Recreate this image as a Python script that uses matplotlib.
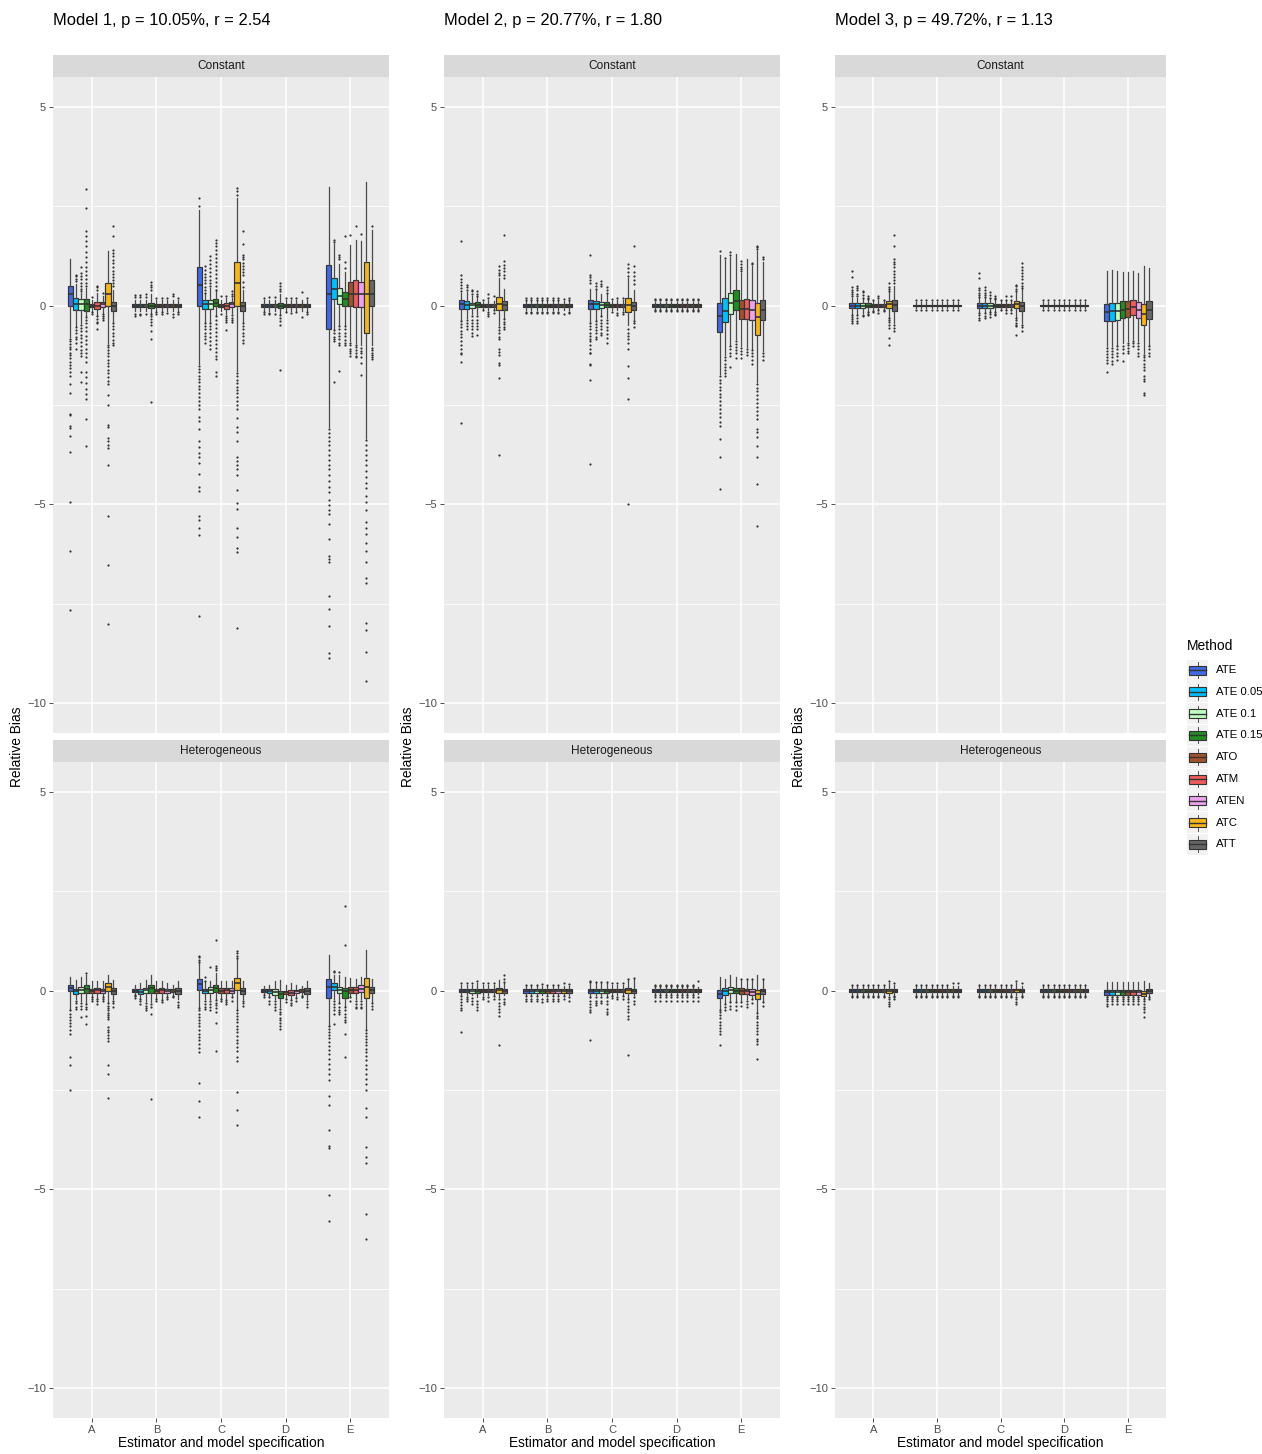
import matplotlib
matplotlib.use("Agg")
import matplotlib.pyplot as plt
from matplotlib.patches import Rectangle

plt.rcParams['font.family'] = ['Liberation Sans', 'DejaVu Sans']

W, H = 1262, 1454

GROUPS = ['A', 'B', 'C', 'D', 'E']
METHODS = ['ATE', 'ATE 0.05', 'ATE 0.1', 'ATE 0.15', 'ATO', 'ATM', 'ATEN', 'ATC', 'ATT']
COLORS = ['#4169E1', '#00BFFF', '#C1FFC1', '#228B22', '#A0522D',
          '#EE5C5C', '#EEA2EE', '#F5B51B', '#666666']
TITLES = ['Model 1, p = 10.05%, r = 2.54',
          'Model 2, p = 20.77%, r = 1.80',
          'Model 3, p = 49.72%, r = 1.13']
ROWS = ['Constant', 'Heterogeneous']

# box summaries: (whisker low, q1, median, q3, whisker high)
T1 = (-0.14, -0.04, 0.0, 0.04, 0.14)
T2 = (-0.12, -0.03, 0.0, 0.03, 0.12)
T3 = (-0.06, -0.02, 0.0, 0.02, 0.10)
T4 = (-0.10, -0.03, 0.0, 0.03, 0.12)
T5 = (-0.10, -0.05, 0.0, 0.03, 0.12)
T6 = (-0.08, -0.03, 0.0, 0.03, 0.10)

# ---------------- Model 1 ----------------
M1_CONST = {
    'A': [(-0.80, -0.02, 0.28, 0.50, 1.18), (-0.52, -0.10, 0.04, 0.19, 0.55),
          (-0.45, -0.10, 0.04, 0.17, 0.32), (-0.25, -0.14, 0.05, 0.17, 0.45),
          (-0.15, -0.04, 0.0, 0.04, 0.15), (-0.25, -0.08, 0.0, 0.08, 0.32),
          (-0.18, -0.03, 0.03, 0.08, 0.25), (-0.94, -0.02, 0.30, 0.57, 1.38),
          (-0.42, -0.14, 0.0, 0.08, 0.40)],
    'B': [T1, T1, T1, (-0.18, -0.06, 0.0, 0.06, 0.30), T1, T1, T1, T1, T1],
    'C': [(-1.48, -0.02, 0.51, 0.97, 2.41), (-0.42, -0.08, 0.04, 0.15, 0.30),
          (-0.42, -0.08, 0.04, 0.15, 0.45), (-0.25, -0.02, 0.07, 0.17, 0.38),
          T1, (-0.22, -0.08, 0.0, 0.07, 0.20), (-0.18, -0.03, 0.03, 0.08, 0.20),
          (-1.64, 0.0, 0.57, 1.09, 2.70), (-0.42, -0.14, -0.02, 0.08, 0.40)],
    'D': [T1, T1, T1, (-0.20, -0.06, 0.0, 0.06, 0.30), T1, T1, T1, T1, T1],
    'E': [(-3.05, -0.60, 0.30, 1.03, 2.98), (-0.60, 0.17, 0.43, 0.70, 1.55),
          (-0.50, 0.05, 0.23, 0.44, 1.05), (-0.50, -0.02, 0.17, 0.34, 0.85),
          (-0.90, -0.02, 0.30, 0.59, 1.53), (-0.95, -0.03, 0.30, 0.64, 1.66),
          (-1.00, -0.03, 0.30, 0.59, 1.62), (-3.32, -0.68, 0.30, 1.10, 3.12),
          (-1.00, -0.02, 0.30, 0.65, 1.91)],
}
M1_CONST_OUT = {
    'A': [[-0.84, -0.9, -0.97, -1.03, -1.1, -1.18, -1.25, -1.33, -1.42, -1.5, -1.58, -1.67,
           -1.78, -1.98, -2.2, -2.72, -2.76, -3.04, -3.09, -3.29, -3.67, -4.95, -6.16, -7.66],
          [0.62, 0.68, 0.74, 0.78, -0.55, -0.62, -0.7, -0.78, -0.85, -0.95, -1.1],
          [0.36, 0.42, 0.5, 0.58, 0.66, 0.74, 0.82, 0.97, -0.48, -0.56, -0.64, -0.73, -0.82,
           -0.92, -1.02, -1.12, -1.2, -1.28, -1.66, -1.91],
          [0.49, 0.58, 0.68, 0.78, 0.88, 0.98, 1.1, 1.22, 1.35, 1.5, 1.62, 1.75, 1.87, 2.45,
           2.93, -0.28, -0.36, -0.45, -0.55, -0.65, -0.76, -0.86, -0.97, -1.08, -1.18, -1.3,
           -1.42, -1.68, -1.8, -1.95, -2.1, -2.22, -2.36, -2.84, -3.54],
          [0.22, -0.17, -0.2],
          [0.4, 0.46, 0.5, -0.27, -0.33, -0.4, -0.44, -0.58],
          [0.32, -0.2, -0.26, -0.31, -0.37],
          [-0.98, -1.05, -1.12, -1.2, -1.28, -1.36, -1.45, -1.53, -1.62, -1.7, -1.8, -1.9,
           -1.98, -2.26, -2.49, -3.0, -3.05, -3.32, -3.4, -3.5, -3.58, -4.02, -5.28, -6.53, -8.02],
          [0.49, 0.56, 0.64, 0.72, 0.8, 0.88, 0.97, 1.06, 1.15, 1.24, 1.32, 1.4, 1.76, 2.0,
           -0.44, -0.52, -0.6, -0.68, -0.77, -0.86, -0.93, -1.0]],
    'B': [[0.22, 0.27, -0.2, -0.25], [0.22, 0.27, -0.2, -0.24], [0.22, 0.3, -0.2],
          [0.4, 0.47, 0.53, 0.6, -0.2, -0.27, -0.34, -0.4, -0.48, -0.65, -0.85, -2.42],
          [0.2, -0.17, -0.2], [0.2, -0.17, -0.2], [0.2, -0.18], [0.25, 0.3, -0.22, -0.28],
          [0.2, -0.17, -0.22]],
    'C': [[2.5, 2.7, -1.52, -1.6, -1.68, -1.76, -1.85, -1.93, -2.02, -2.1, -2.2, -2.3, -2.4,
           -2.5, -2.6, -2.8, -2.9, -3.1, -3.4, -3.55, -3.7, -3.82, -3.95, -4.24, -4.55, -4.67,
           -5.28, -5.38, -5.6, -5.78, -7.81],
          [0.32, 0.4, 0.48, 0.56, 0.64, 0.72, 0.8, 0.9, 0.99, -0.44, -0.52, -0.6, -0.68,
           -0.76, -0.85, -0.93],
          [0.49, 0.57, 0.65, 0.75, 0.85, 0.95, 1.05, 1.15, 1.24, -0.44, -0.52, -0.6, -0.7,
           -0.8, -0.9, -1.0, -1.1],
          [0.4, 0.5, 0.6, 0.7, 0.8, 0.9, 1.0, 1.1, 1.2, 1.3, 1.4, 1.5, 1.58, 1.66, -0.27,
           -0.36, -0.46, -0.56, -0.66, -0.76, -0.86, -0.96, -1.06, -1.16, -1.26, -1.35,
           -1.68, -1.76],
          [0.23, -0.2],
          [0.23, -0.25, -0.3, -0.36, -0.4, -0.62],
          [0.23, 0.3, 0.36, -0.23, -0.3, -0.36, -0.4],
          [2.79, 2.88, 2.96, -1.7, -1.78, -1.86, -1.95, -2.04, -2.12, -2.2, -2.3, -2.4, -2.5,
           -2.6, -2.83, -3.05, -3.17, -3.4, -3.8, -3.9, -4.0, -4.1, -4.25, -4.64, -4.97,
           -5.12, -5.6, -5.82, -6.1, -6.2, -8.1],
          [0.48, 0.6, 0.78, 0.85, 0.92, 1.0, 1.08, 1.16, 1.22, 1.28, 1.55, 1.88, -0.44,
           -0.52, -0.6, -0.68, -0.77, -0.86, -0.94]],
    'D': [[0.2, -0.17, -0.2], [0.22, -0.18, -0.22], [0.22, -0.2],
          [0.36, 0.42, 0.5, 0.57, -0.23, -0.3, -0.38, -0.48, -1.61],
          [0.2, -0.17], [0.2, -0.18], [0.2, -0.17], [0.35, -0.28], [0.2, -0.17, -0.2]],
    'E': [[-3.1, -3.2, -3.3, -3.4, -3.5, -3.62, -3.75, -3.88, -4.0, -4.12, -4.25, -4.4,
           -4.55, -4.7, -4.88, -5.02, -5.15, -5.23, -5.5, -5.88, -6.3, -6.38, -6.45, -7.3,
           -7.62, -8.05, -8.74, -8.87],
          [1.6, 1.66, -0.62, -0.7, -0.78, -0.85, -0.9, -1.93],
          [1.16, 1.22, 1.28, -0.52, -0.6, -0.68, -0.76, -0.85, -0.93, -0.98, -1.65],
          [0.95, 1.09, 1.74, -0.52, -0.6, -0.68, -0.77, -0.86, -0.93, -1.0],
          [1.78, -0.93, -1.0, -1.08, -1.15, -1.2, -1.27],
          [1.99, -0.98, -1.05, -1.12, -1.2, -1.27, -1.3],
          [1.81, -1.06, -1.13, -1.2, -1.3, -1.45, -1.75],
          [-3.38, -3.5, -3.62, -3.75, -3.88, -4.0, -4.15, -4.3, -4.45, -4.6, -4.8, -4.95,
           -5.15, -5.45, -5.6, -5.75, -5.98, -6.17, -6.44, -6.85, -6.98, -7.98, -8.17,
           -8.72, -9.45],
          [1.99, -1.06, -1.12, -1.18, -1.23, -1.3, -1.35]],
}

M1_HET = {
    'A': [(-0.48, -0.02, 0.07, 0.15, 0.35), (-0.22, -0.08, -0.02, 0.04, 0.27),
          (-0.25, -0.07, 0.02, 0.10, 0.35), (-0.30, -0.07, 0.04, 0.13, 0.38),
          (-0.15, -0.05, 0.0, 0.05, 0.23), (-0.18, -0.05, 0.02, 0.07, 0.25),
          (-0.15, -0.05, 0.0, 0.05, 0.23), (-0.30, -0.02, 0.10, 0.18, 0.38),
          (-0.22, -0.08, 0.0, 0.07, 0.27)],
    'B': [(-0.08, -0.04, 0.0, 0.03, 0.13), (-0.18, -0.08, -0.03, 0.04, 0.18),
          (-0.25, -0.06, 0.02, 0.07, 0.27), (-0.28, -0.07, 0.06, 0.13, 0.38),
          (-0.18, -0.05, 0.0, 0.05, 0.23), (-0.20, -0.06, 0.02, 0.07, 0.25),
          (-0.15, -0.05, 0.0, 0.05, 0.20), (-0.10, -0.04, 0.0, 0.03, 0.15),
          (-0.22, -0.08, 0.0, 0.07, 0.25)],
    'C': [(-0.42, 0.02, 0.17, 0.29, 0.70), (-0.22, -0.07, 0.0, 0.04, 0.22),
          (-0.22, -0.05, 0.02, 0.08, 0.25), (-0.20, -0.04, 0.07, 0.13, 0.45),
          (-0.18, -0.06, 0.0, 0.06, 0.23), (-0.20, -0.06, 0.02, 0.07, 0.25),
          (-0.15, -0.06, 0.0, 0.06, 0.25), (-0.46, 0.02, 0.18, 0.32, 0.80),
          (-0.22, -0.08, 0.0, 0.07, 0.25)],
    'D': [(-0.08, -0.04, 0.0, 0.03, 0.12), (-0.15, -0.07, 0.0, 0.03, 0.15),
          (-0.22, -0.10, -0.03, 0.03, 0.25), (-0.42, -0.18, -0.08, 0.0, 0.27),
          (-0.20, -0.08, -0.03, 0.0, 0.15), (-0.22, -0.11, -0.05, 0.02, 0.20),
          (-0.15, -0.07, -0.02, 0.02, 0.15), (-0.10, -0.04, 0.0, 0.03, 0.12),
          (-0.22, -0.08, 0.0, 0.07, 0.25)],
    'E': [(-0.88, -0.18, 0.10, 0.28, 0.90), (-0.22, 0.02, 0.10, 0.18, 0.40),
          (-0.30, -0.07, 0.02, 0.10, 0.40), (-0.40, -0.18, -0.02, 0.07, 0.34),
          (-0.15, -0.06, 0.02, 0.08, 0.32), (-0.20, -0.06, 0.02, 0.08, 0.30),
          (-0.22, -0.04, 0.05, 0.13, 0.35), (-0.96, -0.19, 0.10, 0.32, 1.02),
          (-0.28, -0.07, 0.02, 0.10, 0.30)],
}
M1_HET_OUT = {
    'A': [[-0.5, -0.58, -0.66, -0.74, -0.82, -0.9, -0.98, -1.09, -1.68, -1.88, -2.49],
          [-0.25, -0.32, -0.4, -0.46], [-0.3, -0.38, -0.46, -0.67],
          [0.44, -0.33, -0.4, -0.46, -0.63, -0.84], [-0.17, -0.21, -0.25],
          [-0.21, -0.27, -0.33], [-0.17, -0.21, -0.25],
          [-0.32, -0.38, -0.44, -0.5, -0.56, -0.62, -0.67, -0.71, -0.92, -0.98, -1.05,
           -1.12, -1.19, -1.26, -1.87, -2.1, -2.7],
          [-0.25, -0.32, -0.4]],
    'B': [[-0.1, -0.14, -0.18], [-0.21, -0.27, -0.33], [-0.3, -0.38, -0.44, -0.49],
          [-0.33, -0.4, -0.59, -2.72], [-0.21, -0.27], [-0.24, -0.29], [-0.17, -0.22],
          [-0.13, -0.17], [-0.29, -0.35, -0.42]],
    'C': [[0.71, 0.78, 0.84, 0.88, -0.44, -0.5, -0.58, -0.66, -0.74, -0.82, -0.9, -0.98,
           -1.09, -1.17, -1.25, -1.35, -1.45, -1.55, -2.33, -2.77, -3.19],
          [0.25, 0.33, -0.25, -0.33, -0.4, -0.46], [0.59, -0.25, -0.33, -0.4, -0.49],
          [0.53, 0.58, 0.63, 1.27, -0.23, -0.3, -0.37, -0.44, -0.54, -0.82, -1.52],
          [-0.21, -0.27], [-0.24, -0.29, -0.34], [-0.17, -0.25],
          [0.82, 0.88, 0.94, 0.99, -0.48, -0.56, -0.64, -0.72, -0.8, -0.88, -0.96, -1.05,
           -1.14, -1.23, -1.32, -1.42, -1.51, -1.68, -1.78, -2.55, -3.0, -3.37],
          [-0.25, -0.31, -0.38]],
    'D': [[-0.1, -0.16], [-0.17, -0.25, -0.33], [-0.25, -0.33, -0.42, -0.5],
          [-0.46, -0.53, -0.6, -0.68, -0.75, -0.82, -0.89, -0.96], [-0.21, -0.29],
          [-0.24, -0.3, -0.35], [-0.18, -0.25], [-0.13, -0.17], [-0.25, -0.33, -0.42]],
    'E': [[-0.9, -0.96, -1.04, -1.12, -1.2, -1.3, -1.4, -1.5, -1.6, -1.72, -1.84, -1.96,
           -2.1, -2.26, -2.64, -2.87, -3.51, -3.92, -3.95, -5.15, -5.8],
          [0.46, 0.5, -0.25, -0.33, -0.42, -0.5, -0.59, -0.84],
          [0.48, -0.32, -0.4, -0.48, -0.55, -0.59],
          [1.15, 2.12, -0.42, -0.5, -0.58, -0.66, -0.74, -0.8, -1.1, -1.68],
          [-0.17, -0.25], [-0.25, -0.33, -0.4, -0.44], [-0.25, -0.33, -0.4, -0.44],
          [-0.98, -1.06, -1.14, -1.22, -1.3, -1.38, -1.46, -1.55, -1.65, -1.75, -1.86,
           -1.98, -2.1, -2.22, -2.35, -2.51, -2.95, -3.18, -3.94, -4.19, -4.33, -5.61, -6.24],
          [-0.32, -0.39, -0.46]],
}

# ---------------- Model 2 ----------------
M2_CONST = {
    'A': [(-0.35, -0.08, 0.03, 0.15, 0.32), (-0.32, -0.08, 0.01, 0.11, 0.35),
          (-0.22, -0.05, 0.01, 0.07, 0.25), (-0.20, -0.03, 0.02, 0.08, 0.22),
          (-0.10, -0.03, 0.0, 0.04, 0.10), (-0.12, -0.03, 0.0, 0.04, 0.15),
          (-0.10, -0.03, 0.0, 0.04, 0.12), (-0.50, -0.12, 0.04, 0.21, 0.70),
          (-0.30, -0.10, 0.01, 0.11, 0.42)],
    'B': [T2, T2, T2, T2, T2, T2, T2, T2, T2],
    'C': [(-0.40, -0.08, 0.03, 0.15, 0.42), (-0.35, -0.08, 0.03, 0.12, 0.40),
          (-0.25, -0.05, 0.01, 0.08, 0.30), (-0.30, -0.03, 0.02, 0.09, 0.30),
          T2, (-0.12, -0.04, 0.0, 0.04, 0.15), (-0.12, -0.03, 0.0, 0.04, 0.13),
          (-0.50, -0.15, 0.02, 0.20, 0.70), (-0.35, -0.10, 0.0, 0.10, 0.40)],
    'D': [T6, T6, T6, T6, T6, T6, T6, T6, T6],
    'E': [(-1.73, -0.66, -0.25, 0.07, 1.28), (-1.25, -0.42, -0.13, 0.19, 1.14),
          (-0.98, -0.20, 0.07, 0.32, 1.22), (-0.85, -0.12, 0.11, 0.38, 1.31),
          (-1.02, -0.33, -0.08, 0.15, 0.82), (-1.05, -0.33, -0.08, 0.17, 1.16),
          (-1.08, -0.35, -0.10, 0.13, 1.00), (-1.93, -0.74, -0.29, 0.07, 1.37),
          (-1.15, -0.37, -0.10, 0.15, 1.10)],
}
M2_CONST_OUT = {
    'A': [[0.36, 0.44, 0.52, 0.6, 0.68, 0.78, 1.62, -0.39, -0.47, -0.55, -0.63, -0.72,
           -0.8, -0.88, -0.98, -1.1, -1.19, -1.21, -1.43, -2.96],
          [0.4, 0.47, 0.53, -0.35, -0.43, -0.52, -0.6],
          [0.3, 0.36, 0.4, -0.27, -0.35, -0.44, -0.52, -0.6, -0.68, -0.77],
          [0.25, 0.3, 0.37, -0.27, -0.35, -0.44, -0.52, -0.6, -0.73],
          [0.15, -0.12], [0.2, 0.28, -0.17, -0.22, -0.27], [0.24, -0.1, -0.18],
          [0.76, 0.82, 0.9, 0.99, -0.55, -0.62, -0.7, -0.78, -0.85, -1.09, -1.16, -1.23,
           -1.44, -1.5, -1.83, -3.75],
          [0.7, 0.78, 0.86, 0.94, 1.02, 1.11, 1.77, -0.33, -0.4, -0.47, -0.55, -0.6]],
    'B': [[0.15, 0.18, -0.15, -0.18]] * 7 + [[0.16, -0.22], [0.15, 0.18, -0.15, -0.18]],
    'C': [[0.57, 0.64, 0.72, 0.78, 1.28, -0.44, -0.52, -0.6, -0.68, -0.76, -0.85, -0.9,
           -1.0, -1.1, -1.19, -1.2, -1.48, -1.49, -1.88, -3.98],
          [0.42, 0.5, 0.57, -0.38, -0.46, -0.54, -0.62, -0.7, -0.78, -0.85],
          [0.5, 0.55, 0.61, -0.27, -0.35, -0.44, -0.52, -0.6, -0.68, -0.75],
          [0.32, 0.4, 0.48, -0.35, -0.44, -0.53, -0.62, -0.72, -0.82, -0.94],
          [0.16, -0.16], [0.2, -0.18, -0.24], [0.18, -0.15, -0.2],
          [0.75, 0.85, 0.95, 1.05, -0.6, -0.68, -0.76, -0.85, -0.93, -1.09, -1.51, -1.83,
           -2.36, -5.0],
          [0.55, 0.65, 0.75, 0.85, 1.0, 1.5, -0.38, -0.45, -0.55]],
    'D': [[0.13, 0.17, -0.1, -0.13]] * 9,
    'E': [[1.37, -1.78, -1.86, -1.95, -2.04, -2.13, -2.22, -2.3, -2.4, -2.5, -2.6, -2.7,
           -2.8, -2.92, -3.04, -3.35, -3.81, -4.62],
          [1.2, -1.3, -1.38, -1.46, -1.55, -1.62, -1.7, -1.77],
          [1.28, 1.35, -1.02, -1.1, -1.18, -1.27, -1.55],
          [-0.88, -0.96, -1.04, -1.12, -1.2, -1.32],
          [0.86, 0.92, 0.98, 1.04, 1.11, -1.06, -1.14, -1.22, -1.32],
          [-1.1, -1.17, -1.23],
          [1.04, 1.07, -1.12, -1.2, -1.28, -1.37, -1.48],
          [1.42, 1.47, 1.51, -1.98, -2.06, -2.15, -2.24, -2.34, -2.44, -2.55, -2.66, -2.76,
           -2.86, -3.1, -3.17, -3.31, -3.52, -3.8, -4.48, -5.55],
          [1.16, 1.22, -1.2, -1.27, -1.36]],
}

M2_HET = {
    'A': [(-0.10, -0.04, 0.0, 0.04, 0.15), (-0.10, -0.04, 0.0, 0.04, 0.15),
          (-0.12, -0.05, -0.01, 0.03, 0.15), (-0.15, -0.05, -0.01, 0.03, 0.18),
          (-0.10, -0.03, 0.0, 0.03, 0.15), (-0.10, -0.04, 0.0, 0.03, 0.15),
          (-0.10, -0.04, 0.0, 0.03, 0.15), (-0.17, -0.05, 0.02, 0.07, 0.27),
          (-0.12, -0.05, 0.0, 0.05, 0.18)],
    'B': [T5, T5, T5, T5, T5, T5, T5, T5, T5],
    'C': [(-0.15, -0.05, 0.0, 0.05, 0.20), (-0.12, -0.05, 0.0, 0.05, 0.18),
          (-0.12, -0.05, -0.01, 0.03, 0.18), (-0.15, -0.07, -0.01, 0.03, 0.18),
          (-0.10, -0.04, 0.0, 0.03, 0.15), (-0.10, -0.04, 0.0, 0.03, 0.15),
          (-0.10, -0.04, 0.0, 0.03, 0.15), (-0.18, -0.05, 0.02, 0.07, 0.28),
          (-0.12, -0.05, 0.0, 0.05, 0.28)],
    'D': [T6, T6, T6, T6, T6, T6, T6, T6, T6],
    'E': [(-0.46, -0.18, -0.08, 0.02, 0.34), (-0.30, -0.11, -0.02, 0.06, 0.30),
          (-0.25, -0.07, 0.02, 0.08, 0.38), (-0.25, -0.07, 0.0, 0.06, 0.34),
          (-0.25, -0.08, -0.01, 0.06, 0.27), (-0.22, -0.08, -0.01, 0.04, 0.27),
          (-0.20, -0.10, -0.03, 0.04, 0.27), (-0.54, -0.21, -0.08, 0.02, 0.39),
          (-0.25, -0.08, -0.01, 0.04, 0.27)],
}
M2_HET_OUT = {
    'A': [[0.2, -0.13, -0.2, -0.28, -0.36, -0.44, -0.5, -1.05], [0.18, -0.17, -0.22, -0.25],
          [0.2, -0.18, -0.25, -0.33], [0.23, -0.25, -0.33, -0.42, -0.5], [0.18, -0.15, -0.21],
          [0.2, -0.17, -0.25], [0.18, -0.13, -0.21],
          [-0.21, -0.3, -0.38, -0.46, -0.55, -0.63, -1.37], [0.21, 0.3, 0.38, -0.21, -0.28, -0.33]],
    'B': [[0.15, -0.13, -0.2, -0.25]] * 3 + [[0.17, -0.21, -0.29]]
         + [[0.15, -0.13, -0.2, -0.25]] * 3 + [[0.2, -0.13, -0.2], [0.17, -0.15, -0.25]],
    'C': [[0.21, 0.25, -0.17, -0.25, -0.33, -0.42, -0.5, -0.54, -1.24],
          [0.21, -0.17, -0.25, -0.3, -0.36], [0.21, -0.17, -0.25, -0.32],
          [0.21, -0.17, -0.25, -0.33, -0.46, -0.54, -0.59], [0.18, -0.13, -0.19],
          [0.2, -0.15, -0.21], [0.2, -0.13, -0.21],
          [0.3, -0.21, -0.29, -0.38, -0.46, -0.55, -0.63, -0.71, -1.62],
          [0.32, -0.17, -0.25, -0.33]],
    'D': [[0.12, 0.15, -0.1, -0.15, -0.25]] * 8 + [[0.23, -0.15, -0.25]],
    'E': [[-0.5, -0.54, -0.62, -0.7, -0.78, -0.86, -0.95, -1.02, -1.09, -1.38],
          [-0.33, -0.4, -0.5], [-0.29, -0.38, -0.46], [-0.29, -0.38, -0.5],
          [0.3, -0.29, -0.38], [0.3, -0.25, -0.33, -0.42], [0.3, -0.21, -0.3],
          [-0.56, -0.63, -0.7, -0.78, -0.86, -0.94, -1.02, -1.1, -1.21, -1.28, -1.34, -1.72],
          [0.3, -0.29, -0.38]],
}

# ---------------- Model 3 ----------------
M3_CONST = {
    'A': [(-0.20, -0.06, 0.0, 0.07, 0.20), (-0.20, -0.06, 0.0, 0.07, 0.20),
          (-0.18, -0.05, 0.0, 0.06, 0.18), (-0.15, -0.04, 0.0, 0.06, 0.15),
          (-0.10, -0.03, 0.0, 0.04, 0.12), (-0.10, -0.03, 0.0, 0.04, 0.15),
          (-0.10, -0.03, 0.0, 0.04, 0.12), (-0.30, -0.06, 0.03, 0.12, 0.33),
          (-0.45, -0.14, 0.02, 0.13, 0.50)],
    'B': [T3, T3, T3, T3, T3, T3, T3, T3, T3],
    'C': [(-0.15, -0.06, 0.0, 0.07, 0.20), (-0.15, -0.06, 0.0, 0.07, 0.20),
          (-0.15, -0.05, 0.0, 0.06, 0.18), (-0.13, -0.03, 0.0, 0.05, 0.15),
          T4, T4, T4,
          (-0.28, -0.06, 0.03, 0.11, 0.33), (-0.45, -0.14, -0.02, 0.09, 0.42)],
    'D': [T3, T3, T3, T3, T3, T3, T3, T3, T3],
    'E': [(-1.02, -0.39, -0.17, 0.05, 0.86), (-1.02, -0.39, -0.14, 0.07, 0.89),
          (-0.98, -0.35, -0.14, 0.07, 0.86), (-0.95, -0.31, -0.10, 0.11, 0.84),
          (-0.90, -0.29, -0.08, 0.11, 0.84), (-0.85, -0.24, -0.03, 0.15, 0.86),
          (-0.90, -0.31, -0.10, 0.08, 0.82), (-1.20, -0.49, -0.21, 0.04, 0.99),
          (-0.98, -0.33, -0.10, 0.11, 0.95)],
}
M3_CONST_OUT = {
    'A': [[0.23, 0.28, 0.33, 0.38, 0.48, 0.72, 0.86, -0.23, -0.28, -0.33, -0.38, -0.44],
          [0.23, 0.3, 0.38, 0.44, 0.49, -0.23, -0.3, -0.38, -0.44],
          [0.2, 0.27, 0.33, 0.36, -0.23, -0.27], [0.17, 0.2, 0.25, -0.17, -0.2, -0.23],
          [0.15, -0.13, -0.17], [0.2, 0.25, -0.12, -0.18], [0.15, -0.12, -0.14],
          [0.36, 0.42, 0.48, 0.57, -0.31, -0.36, -0.42, -0.48, -0.56, -0.81, -0.98],
          [0.57, 0.64, 0.72, 0.8, 0.88, 0.96, 1.04, 1.1, 1.16, 1.49, 1.78, -0.5, -0.57, -0.64]],
    'B': [[0.13, -0.1]] * 9,
    'C': [[0.22, 0.26, 0.32, 0.38, 0.44, 0.7, 0.82, -0.18, -0.24, -0.3, -0.35],
          [0.22, 0.26, 0.32, 0.38, 0.48, -0.18, -0.25, -0.3],
          [0.2, 0.27, 0.33, -0.17, -0.22, -0.28], [0.17, 0.2, 0.25, -0.15, -0.2, -0.23],
          [0.15, -0.12], [0.15, 0.23, -0.12, -0.18], [0.15, 0.23, -0.12, -0.18],
          [0.36, 0.43, 0.49, 0.53, -0.31, -0.37, -0.43, -0.48, -0.52, -0.75],
          [0.44, 0.5, 0.58, 0.66, 0.74, 0.82, 0.9, 0.98, 1.07, -0.48, -0.55, -0.64]],
    'D': [[0.13, -0.1]] * 9,
    'E': [[-1.06, -1.14, -1.22, -1.3, -1.38, -1.44, -1.67],
          [-1.06, -1.14, -1.22, -1.3, -1.4, -1.48],
          [-1.02, -1.1, -1.18, -1.27, -1.36], [-1.02, -1.1, -1.18, -1.4],
          [-0.94, -0.98, -1.06, -1.14, -1.19], [-0.88, -0.94, -1.02],
          [-0.94, -1.02, -1.1, -1.18, -1.26],
          [-1.23, -1.3, -1.38, -1.46, -1.54, -1.61, -1.78, -1.85, -1.9, -2.19, -2.24],
          [-1.02, -1.1, -1.18, -1.26]],
}

M3_HET = {
    'A': [T4] * 7 + [(-0.12, -0.06, 0.0, 0.03, 0.18), (-0.10, -0.03, 0.0, 0.04, 0.15)],
    'B': [T4] * 9,
    'C': [T4] * 7 + [(-0.12, -0.04, 0.01, 0.04, 0.18), T4],
    'D': [T4] * 9,
    'E': [(-0.15, -0.10, -0.04, 0.02, 0.21)] * 7
         + [(-0.18, -0.14, -0.08, -0.02, 0.23), (-0.15, -0.06, -0.01, 0.04, 0.20)],
}
M3_HET_OUT = {
    'A': [[0.15, -0.13, -0.17]] * 7 + [[0.23, -0.17, -0.22, -0.28, -0.33, -0.38],
                                      [0.18, -0.13, -0.17, -0.2]],
    'B': [[0.15, -0.13, -0.17]] * 7 + [[0.18, -0.13, -0.17], [0.18, -0.13, -0.17]],
    'C': [[0.15, -0.13, -0.17]] * 7 + [[0.23, -0.17, -0.22, -0.28, -0.33],
                                      [0.18, -0.13, -0.17]],
    'D': [[0.15, -0.13, -0.17]] * 9,
    'E': [[-0.17, -0.22, -0.27, -0.33, -0.38]] + [[-0.17, -0.22, -0.27, -0.33]] * 6
         + [[-0.21, -0.27, -0.33, -0.4, -0.46, -0.54, -0.67], [-0.17, -0.22]],
}

PANELS = [[(M1_CONST, M1_CONST_OUT), (M1_HET, M1_HET_OUT)],
          [(M2_CONST, M2_CONST_OUT), (M2_HET, M2_HET_OUT)],
          [(M3_CONST, M3_CONST_OUT), (M3_HET, M3_HET_OUT)]]

# layout in pixels
COL_X = [(53, 389), (444, 780), (835, 1166)]
ROW_Y = [(77, 733), (762, 1418)]
STRIP_H = 22
YLIM = (-10.75, 5.75)
LINE = '#333333'
BOX_W = 0.75 / 9


def px_rect(x0, y0, x1, y1):
    return [x0 / W, 1 - y1 / H, (x1 - x0) / W, (y1 - y0) / H]


def draw_panel(ax, boxes, outs, bottom):
    ax.set_facecolor('#EBEBEB')
    for s in ax.spines.values():
        s.set_visible(False)
    for y in (-7.5, -2.5, 2.5):
        ax.axhline(y, color='white', lw=0.55, zorder=0)
    for y in (-10, -5, 0, 5):
        ax.axhline(y, color='white', lw=1.1, zorder=0)
    for x in range(1, 6):
        ax.axvline(x, color='white', lw=1.1, zorder=0)
    for gi, g in enumerate(GROUPS):
        stats, pos = [], []
        for mi in range(9):
            lo, q1, med, q3, hi = boxes[g][mi]
            stats.append({'whislo': lo, 'q1': q1, 'med': med, 'q3': q3,
                          'whishi': hi, 'fliers': outs[g][mi]})
            pos.append(gi + 1 - 0.375 + (mi + 0.5) * BOX_W)
        bp = ax.bxp(stats, positions=pos, widths=BOX_W, patch_artist=True,
                    showcaps=False, manage_ticks=False,
                    boxprops=dict(edgecolor=LINE, linewidth=0.85),
                    whiskerprops=dict(color='#4A4A4A', linewidth=0.9),
                    medianprops=dict(color=LINE, linewidth=1.2),
                    flierprops=dict(marker='o', markersize=1.6, markeredgewidth=0,
                                    markerfacecolor=LINE, linestyle='none'))
        for patch, c in zip(bp['boxes'], COLORS):
            patch.set_facecolor(c)
    ax.set_xlim(0.4, 5.6)
    ax.set_ylim(*YLIM)
    ax.set_yticks([-10, -5, 0, 5])
    ax.set_yticklabels(['\u221210', '\u22125', '0', '5'])
    ax.tick_params(axis='y', length=3, width=0.6, color=LINE, labelsize=8,
                   labelcolor='#4D4D4D', pad=2)
    ax.set_xticks(range(1, 6))
    if bottom:
        ax.set_xticklabels(GROUPS)
        ax.tick_params(axis='x', length=3, width=0.6, color=LINE, labelsize=8,
                       labelcolor='#4D4D4D', pad=2)
    else:
        ax.set_xticklabels([])
        ax.tick_params(axis='x', length=0)


fig = plt.figure(figsize=(W / 100, H / 100), dpi=100)

for ci, (x0, x1) in enumerate(COL_X):
    for ri, (y0, y1) in enumerate(ROW_Y):
        ax = fig.add_axes(px_rect(x0, y0, x1, y1))
        boxes, outs = PANELS[ci][ri]
        draw_panel(ax, boxes, outs, bottom=(ri == 1))
        sax = fig.add_axes(px_rect(x0, y0 - STRIP_H, x1, y0))
        sax.set_facecolor('#D9D9D9')
        sax.set_xticks([])
        sax.set_yticks([])
        for s in sax.spines.values():
            s.set_visible(False)
        sax.text(0.5, 0.5, ROWS[ri], ha='center', va='center', fontsize=8.6,
                 color='#1A1A1A', transform=sax.transAxes)
    fig.text(x0 / W, 1 - 20 / H, TITLES[ci], ha='left', va='center', fontsize=11.9)
    fig.text((x0 + x1) / 2 / W, 1 - 1443 / H, 'Estimator and model specification',
             ha='center', va='center', fontsize=9.9)
    fig.text((x0 - 36) / W, 1 - 747 / H, 'Relative Bias', rotation=90,
             ha='center', va='center', fontsize=9.9)

# legend
lax = fig.add_axes(px_rect(1180, 635, 1262, 860))
lax.set_xlim(1180, 1262)
lax.set_ylim(860, 635)
lax.axis('off')
lax.text(1187, 646, 'Method', fontsize=10, ha='left', va='center')
for i, (name, c) in enumerate(zip(METHODS, COLORS)):
    yc = 670 + i * 21.8
    lax.add_patch(Rectangle((1187, yc - 10.5), 21, 21, facecolor='#F2F2F2',
                            edgecolor='none'))
    lax.plot([1197.5, 1197.5], [yc - 8, yc + 8], color=LINE, lw=0.6)
    lax.add_patch(Rectangle((1189, yc - 4.5), 17, 9, facecolor=c, edgecolor=LINE,
                            lw=0.8, zorder=3))
    lax.plot([1189, 1206], [yc, yc], color=LINE, lw=1.0, zorder=4)
    lax.text(1216, yc, name, fontsize=8.2, ha='left', va='center')

fig.savefig('out.png', dpi=100)
